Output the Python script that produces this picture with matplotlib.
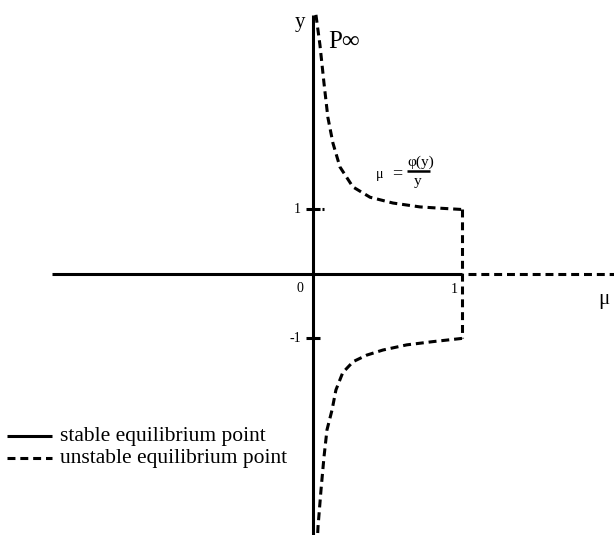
import matplotlib
matplotlib.use("Agg")
import matplotlib.pyplot as plt

plt.rcParams["font.family"] = ["Liberation Serif", "DejaVu Serif"]

# upper branch of mu = phi(y)/y  (mu, y)
upper_mu = [0.020, 0.047, 0.074, 0.100, 0.134, 0.181, 0.268, 0.383, 0.537, 0.718, 0.852, 1.000]
upper_y = [4.02, 3.55, 2.96, 2.43, 2.03, 1.66, 1.35, 1.19, 1.10, 1.04, 1.02, 1.00]

# lower branch
lower_mu = [1.000, 0.805, 0.630, 0.470, 0.360, 0.270, 0.200, 0.154, 0.128, 0.094, 0.074, 0.054, 0.034, 0.030]
lower_y = [-1.00, -1.05, -1.10, -1.18, -1.26, -1.36, -1.53, -1.80, -2.11, -2.42, -2.84, -3.35, -3.92, -4.10]

# axes extents
mu_min, mu_max = -2.10, 2.02
y_min, y_max = -4.05, 4.25
stable_mu_left = -1.75
stable_y_top = 4.02
unstable_mu_start = 1.04

tick_values = [1, -1]
tick_labels = ["1", "-1"]

LW = 2.2
DASH = (0, (2.6, 1.6))

fig = plt.figure(figsize=(6.14, 5.35), dpi=100)
ax = fig.add_axes([0, 0, 1, 1])
ax.set_xlim(mu_min, mu_max)
ax.set_ylim(y_min, y_max)
ax.axis("off")

# stable equilibria: y = 0 for mu < 1 and mu = 0
ax.plot([stable_mu_left, 1.0], [0, 0], color="black", lw=LW, solid_capstyle="butt")
ax.plot([0, 0], [y_min, stable_y_top], color="black", lw=LW, solid_capstyle="butt")

# unstable equilibria
ax.plot([unstable_mu_start, mu_max], [0, 0], color="black", lw=LW, linestyle=DASH)
ax.plot(upper_mu, upper_y, color="black", lw=LW, linestyle=DASH)
ax.plot(lower_mu, lower_y, color="black", lw=LW, linestyle=DASH)
ax.plot([1.0, 1.0], [1.0, -1.0], color="black", lw=LW, linestyle=DASH)

# ticks on the y axis
for v, lab in zip(tick_values, tick_labels):
    ax.plot([-0.047, 0.047], [v, v], color="black", lw=LW, solid_capstyle="butt")
    ax.text(-0.08, v, lab, ha="right", va="center", fontsize=10)
ax.plot([0.060, 0.075], [1, 1], color="black", lw=LW, solid_capstyle="butt")

ax.text(-0.09, -0.22, "0", ha="center", va="center", fontsize=10)
ax.text(0.945, -0.24, "1", ha="center", va="center", fontsize=10)

# axis names
ax.text(-0.09, 3.90, "y", ha="center", va="center", fontsize=15)
ax.text(1.955, -0.40, "μ", ha="center", va="center", fontsize=15)
ax.text(0.105, 3.60, "P∞", ha="left", va="center", fontsize=18)

# curve label  mu = phi(y) / y
ax.text(0.45, 1.54, "μ", ha="center", va="center", fontsize=10)
ax.text(0.564, 1.56, "=", ha="center", va="center", fontsize=13)
ax.text(0.72, 1.74, "φ(y)", ha="center", va="center", fontsize=11)
ax.plot([0.63, 0.785], [1.60, 1.60], color="black", lw=1.8, solid_capstyle="butt")
ax.text(0.705, 1.43, "y", ha="center", va="center", fontsize=11)

# legend
ax.plot([-2.05, -1.75], [-2.52, -2.52], color="black", lw=LW, solid_capstyle="butt")
ax.plot([-2.05, -1.75], [-2.86, -2.86], color="black", lw=LW, linestyle=DASH)
ax.text(-1.70, -2.52, "stable equilibrium point", ha="left", va="center", fontsize=15.5)
ax.text(-1.70, -2.86, "unstable equilibrium point", ha="left", va="center", fontsize=15.5)

fig.savefig("out.png", dpi=100)
